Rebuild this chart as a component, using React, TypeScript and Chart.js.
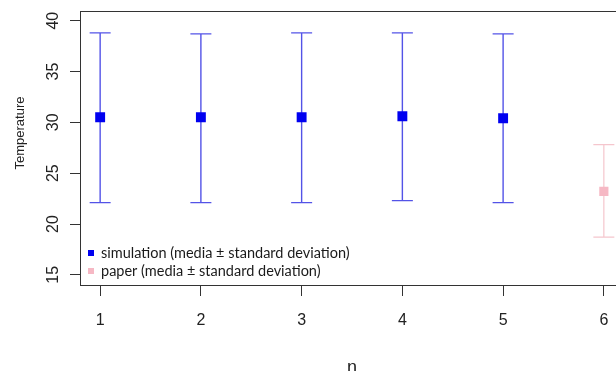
import { useEffect, useRef } from "react";
import { Chart, registerables } from "chart.js";

Chart.register(...registerables);

// Simulation runs: mean and mean ± standard deviation
const runs = [1, 2, 3, 4, 5];
const simMean = [30.5, 30.5, 30.5, 30.6, 30.4];
const simUpper = [38.8, 38.7, 38.8, 38.8, 38.7];
const simLower = [22.1, 22.1, 22.1, 22.3, 22.1];

// Published reference value
const paperRun = [6];
const paperMean = [23.2];
const paperUpper = [27.8];
const paperLower = [18.7];

const xTicks = [1, 2, 3, 4, 5, 6];
const yTicks = [15, 20, 25, 30, 35, 40];
const legendLabels = [
  "simulation (media ± standard deviation)",
  "paper (media ± standard deviation)",
];
const xTitle = "n";
const yTitle = "Temperature";

const SIM_POINT = "#0000f0";
const SIM_BAR = "rgba(40,40,225,0.8)";
const PAPER_POINT = "#f6b8c4";
const PAPER_BAR = "#f5c6cd";
const AXIS_FONT = "'Liberation Sans', Arial, sans-serif";

type Series = { xs: number[]; lo: number[]; hi: number[]; color: string; width: number; cap: number };

const seriesBars: Series[] = [
  { xs: runs, lo: simLower, hi: simUpper, color: SIM_BAR, width: 1.4, cap: 10.5 },
  { xs: paperRun, lo: paperLower, hi: paperUpper, color: PAPER_BAR, width: 1.2, cap: 10.5 },
];

const errorBars = {
  id: "errorBars",
  beforeDatasetsDraw(chart: any) {
    const { ctx, scales } = chart;
    const xs = scales.x;
    const ys = scales.y;
    ctx.save();
    for (const s of seriesBars) {
      ctx.strokeStyle = s.color;
      ctx.lineWidth = s.width;
      s.xs.forEach((xv, i) => {
        const px = xs.getPixelForValue(xv);
        const top = ys.getPixelForValue(s.hi[i]);
        const bot = ys.getPixelForValue(s.lo[i]);
        ctx.beginPath();
        ctx.moveTo(px, top);
        ctx.lineTo(px, bot);
        ctx.moveTo(px - s.cap, top);
        ctx.lineTo(px + s.cap, top);
        ctx.moveTo(px - s.cap, bot);
        ctx.lineTo(px + s.cap, bot);
        ctx.stroke();
      });
    }
    ctx.restore();
  },
};

const frame = {
  id: "frame",
  afterDraw(chart: any) {
    const { ctx, chartArea, scales } = chart;
    const { left, top, right, bottom } = chartArea;
    ctx.save();

    // plot box
    ctx.strokeStyle = "#333";
    ctx.lineWidth = 1;
    ctx.strokeRect(Math.round(left) + 0.5, Math.round(top) + 0.5, right - left, Math.round(bottom) - Math.round(top));

    ctx.fillStyle = "#222";
    ctx.font = `16px ${AXIS_FONT}`;

    // y tick labels, rotated
    ctx.textAlign = "center";
    ctx.textBaseline = "alphabetic";
    for (const v of yTicks) {
      const py = scales.y.getPixelForValue(v);
      ctx.save();
      ctx.translate(58, py);
      ctx.rotate(-Math.PI / 2);
      ctx.fillText(String(v), 0, 0);
      ctx.restore();
    }

    // x tick labels
    for (const v of xTicks) {
      const px = scales.x.getPixelForValue(v);
      ctx.fillText(String(v), px, 325);
    }

    // axis titles
    ctx.font = `18px ${AXIS_FONT}`;
    ctx.fillText(xTitle, (left + right) / 2, 373);

    ctx.font = `13px ${AXIS_FONT}`;
    ctx.save();
    ctx.translate(24, 133);
    ctx.rotate(-Math.PI / 2);
    ctx.fillText(yTitle, 0, 0);
    ctx.restore();

    // legend
    const colors = [SIM_POINT, PAPER_POINT];
    const rows = [253, 271];
    ctx.font = "14.5px Lato, 'Open Sans', sans-serif";
    ctx.textAlign = "left";
    ctx.textBaseline = "middle";
    legendLabels.forEach((label, i) => {
      ctx.fillStyle = colors[i];
      ctx.fillRect(88, rows[i] - 3, 6, 6);
      ctx.fillStyle = "#1a1a1a";
      ctx.fillText(label, 101, rows[i]);
    });

    ctx.restore();
  },
};

export default function App() {
  const canvasRef = useRef<HTMLCanvasElement | null>(null);

  useEffect(() => {
    const canvas = canvasRef.current;
    if (!canvas) return;
    const chart = new Chart(canvas, {
      type: "scatter",
      data: {
        datasets: [
          {
            label: legendLabels[0],
            data: runs.map((x, i) => ({ x, y: simMean[i] })),
            pointStyle: "rect",
            pointRadius: 7,
            backgroundColor: SIM_POINT,
            borderWidth: 0,
          },
          {
            label: legendLabels[1],
            data: paperRun.map((x, i) => ({ x, y: paperMean[i] })),
            pointStyle: "rect",
            pointRadius: 6.5,
            backgroundColor: PAPER_POINT,
            borderWidth: 0,
          },
        ],
      },
      options: {
        animation: false,
        responsive: false,
        events: [],
        layout: { padding: { top: 10.5, right: 16, left: 0, bottom: 0 } },
        plugins: { legend: { display: false }, tooltip: { enabled: false } },
        scales: {
          x: {
            type: "linear",
            min: 0.8,
            max: 6.2,
            afterBuildTicks: (s: any) => {
              s.ticks = xTicks.map((v) => ({ value: v }));
            },
            afterFit: (s: any) => {
              s.height = 86;
            },
            grid: { drawOnChartArea: false, drawTicks: true, tickLength: 11, color: "#333", lineWidth: 1 },
            border: { display: false },
            ticks: { display: false },
          },
          y: {
            type: "linear",
            min: 14,
            max: 41,
            afterBuildTicks: (s: any) => {
              s.ticks = yTicks.map((v) => ({ value: v }));
            },
            afterFit: (s: any) => {
              s.width = 80;
            },
            grid: { drawOnChartArea: false, drawTicks: true, tickLength: 10, color: "#333", lineWidth: 1 },
            border: { display: false },
            ticks: { display: false },
          },
        },
      },
      plugins: [errorBars, frame],
    });
    return () => chart.destroy();
  }, []);

  return (
    <div style={{ position: "fixed", left: 0, top: 0, width: 640, height: 371, background: "#fff" }}>
      <canvas ref={canvasRef} width={640} height={371} style={{ display: "block" }} />
    </div>
  );
}
